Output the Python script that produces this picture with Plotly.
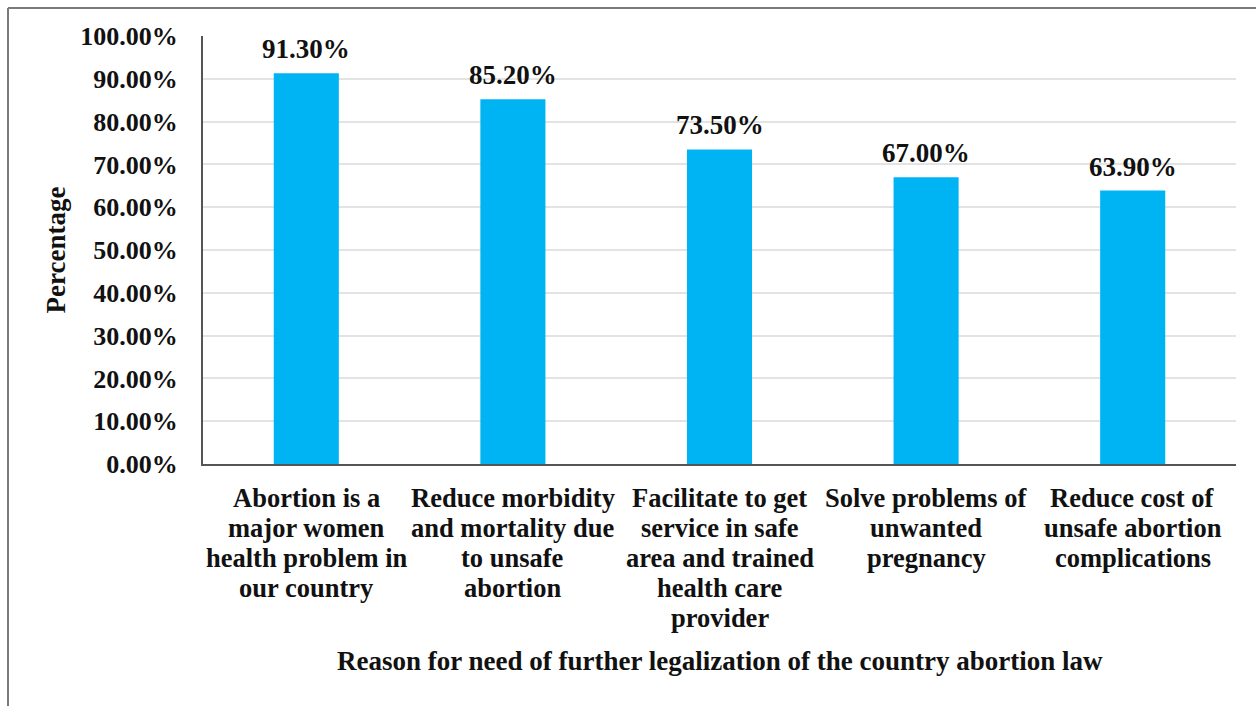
import plotly.graph_objects as go

categories = [
    "Abortion is a<br>major women<br>health problem in<br>our country",
    "Reduce morbidity<br>and mortality due<br>to unsafe<br>abortion",
    "Facilitate to get<br>service in safe<br>area and trained<br>health care<br>provider",
    "Solve problems of<br>unwanted<br>pregnancy",
    "Reduce cost of<br>unsafe abortion<br>complications",
]
values = [91.30, 85.20, 73.50, 67.00, 63.90]
y_title = "Percentage"
x_title = "Reason for need of further legalization of the country abortion law"

FONT = "Liberation Serif"
BAR = "#00B4F4"
TXT = "#111111"
PLOT_H = 428

fig = go.Figure()
fig.add_trace(go.Bar(x=categories, y=values, marker=dict(color=BAR, line=dict(width=0)),
                     width=0.315, hoverinfo="skip"))

# value labels above bars
for c, v in zip(categories, values):
    fig.add_annotation(x=c, y=v, text=f"<b>{v:.2f}%</b>", showarrow=False,
                       yanchor="bottom", yshift=7,
                       font=dict(family=FONT, size=27, color=TXT))

# category labels, one line per annotation for tight line spacing
for c in categories:
    for i, line in enumerate(c.split("<br>")):
        fig.add_annotation(x=c, y=0, yref="paper", text=f"<b>{line}</b>", showarrow=False,
                           xanchor="center", yanchor="middle", yshift=-(34 + 30 * i),
                           font=dict(family=FONT, size=26.5, color=TXT))

# x-axis title
fig.add_annotation(x=0.5, xref="paper", y=(464 - 661) / PLOT_H, yref="paper",
                   text=f"<b>{x_title}</b>", showarrow=False,
                   xanchor="center", yanchor="middle",
                   font=dict(family=FONT, size=27, color=TXT))

fig.update_layout(
    width=1256, height=706,
    margin=dict(l=203, r=20, t=36, b=242),
    paper_bgcolor="white", plot_bgcolor="white",
    showlegend=False,
    font=dict(family=FONT, color=TXT),
    xaxis=dict(
        showline=True, linecolor="#555555", linewidth=2,
        showticklabels=False, ticks="",
    ),
    yaxis=dict(
        range=[0, 100], dtick=10, tickformat=".2f", ticksuffix="%",
        showline=True, linecolor="#555555", linewidth=2,
        showgrid=True, gridcolor="#E3E3E3", gridwidth=1.5,
        zeroline=False,
        tickfont=dict(family=FONT, size=26, color=TXT, weight="bold"),
        ticks="", ticklabelstandoff=18,
        title=dict(text=f"<b>{y_title}</b>", font=dict(family=FONT, size=27, color=TXT),
                   standoff=7),
    ),
)

# outer frame lines (top and left edges of the image)
fig.add_shape(type="line", xref="paper", yref="paper",
              x0=(8 - 203) / 1033, x1=(1256 - 203) / 1033,
              y0=(464 - 8) / PLOT_H, y1=(464 - 8) / PLOT_H,
              line=dict(color="#7a7a7a", width=2))
fig.add_shape(type="line", xref="paper", yref="paper",
              x0=(8 - 203) / 1033, x1=(8 - 203) / 1033,
              y0=(464 - 8) / PLOT_H, y1=(464 - 706) / PLOT_H,
              line=dict(color="#7a7a7a", width=2))

fig.write_html("out.html")
